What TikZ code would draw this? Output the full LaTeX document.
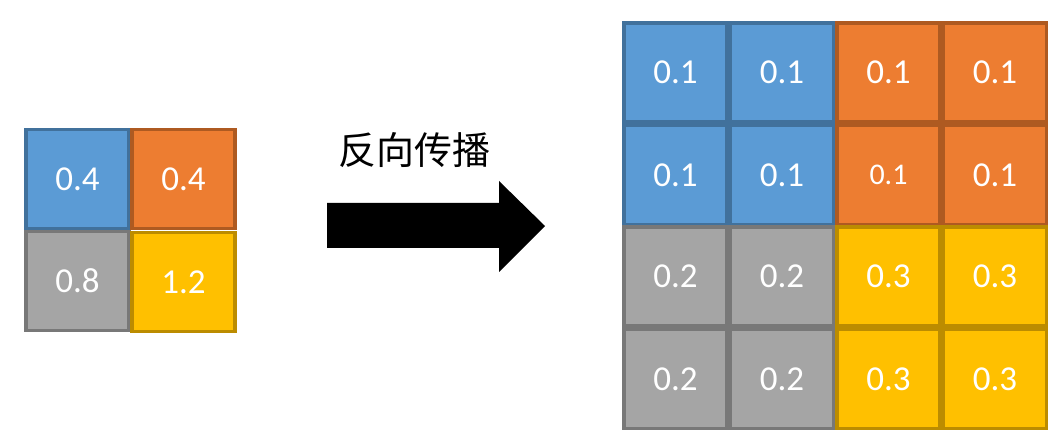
\documentclass[tikz,border=0pt]{standalone}
\usepackage{fontspec}
\setmainfont{Carlito}
\newfontfamily\cjk{Noto Sans CJK SC}
\definecolor{bluef}{HTML}{5B9BD5}
\definecolor{blued}{HTML}{41719C}
\definecolor{orangef}{HTML}{ED7D31}
\definecolor{oranged}{HTML}{AE5A21}
\definecolor{grayf}{HTML}{A5A5A5}
\definecolor{grayd}{HTML}{787878}
\definecolor{yellowf}{HTML}{FFC000}
\definecolor{yellowd}{HTML}{BC8C00}
\tikzset{
  cell/.style={rectangle, line width=3.5pt, minimum width=103pt, minimum height=99pt,
    inner sep=0pt, text=white, font=\fontsize{35}{40}\selectfont},
  bcell/.style={cell, fill=bluef, draw=blued},
  ocell/.style={cell, fill=orangef, draw=oranged},
  gcell/.style={cell, fill=grayf, draw=grayd},
  ycell/.style={cell, fill=yellowf, draw=yellowd},
}
\begin{document}
\begin{tikzpicture}[x=1pt,y=-1pt]
\useasboundingbox (0,0) rectangle (1060,443);
% left grid
\node[bcell] (l11) at (77.5,179) {0.4};
\node[ocell] (l12) at (183.5,179) {0.4};
\node[gcell] (l21) at (77.5,281) {0.8};
\node[ycell] (l22) at (183.5,282) {1.2};
% arrow and label
\node[font=\cjk\fontsize{38}{42}\selectfont, inner sep=0pt] (lab) at (414,150) {反向传播};
\fill (327,203) -- (499,203) -- (499,181) -- (545,226) -- (499,272) -- (499,248) -- (327,248) -- cycle;
% right grid
\node[bcell] (r11) at (675.5,72.5) {0.1};
\node[bcell] (r12) at (782,72.5) {0.1};
\node[ocell] (r13) at (888.5,72.5) {0.1};
\node[ocell] (r14) at (995,72.5) {0.1};
\node[bcell] (r21) at (675.5,175) {0.1};
\node[bcell] (r22) at (782,175) {0.1};
\node[ocell, font=\fontsize{30}{34}\selectfont] (r23) at (888.5,175) {0.1};
\node[ocell] (r24) at (995,175) {0.1};
\node[gcell] (r31) at (675.5,276.5) {0.2};
\node[gcell] (r32) at (782,276.5) {0.2};
\node[ycell] (r33) at (888.5,276.5) {0.3};
\node[ycell] (r34) at (995,276.5) {0.3};
\node[gcell] (r41) at (675.5,379) {0.2};
\node[gcell] (r42) at (782,379) {0.2};
\node[ycell] (r43) at (888.5,379) {0.3};
\node[ycell] (r44) at (995,379) {0.3};
\end{tikzpicture}
\end{document}
